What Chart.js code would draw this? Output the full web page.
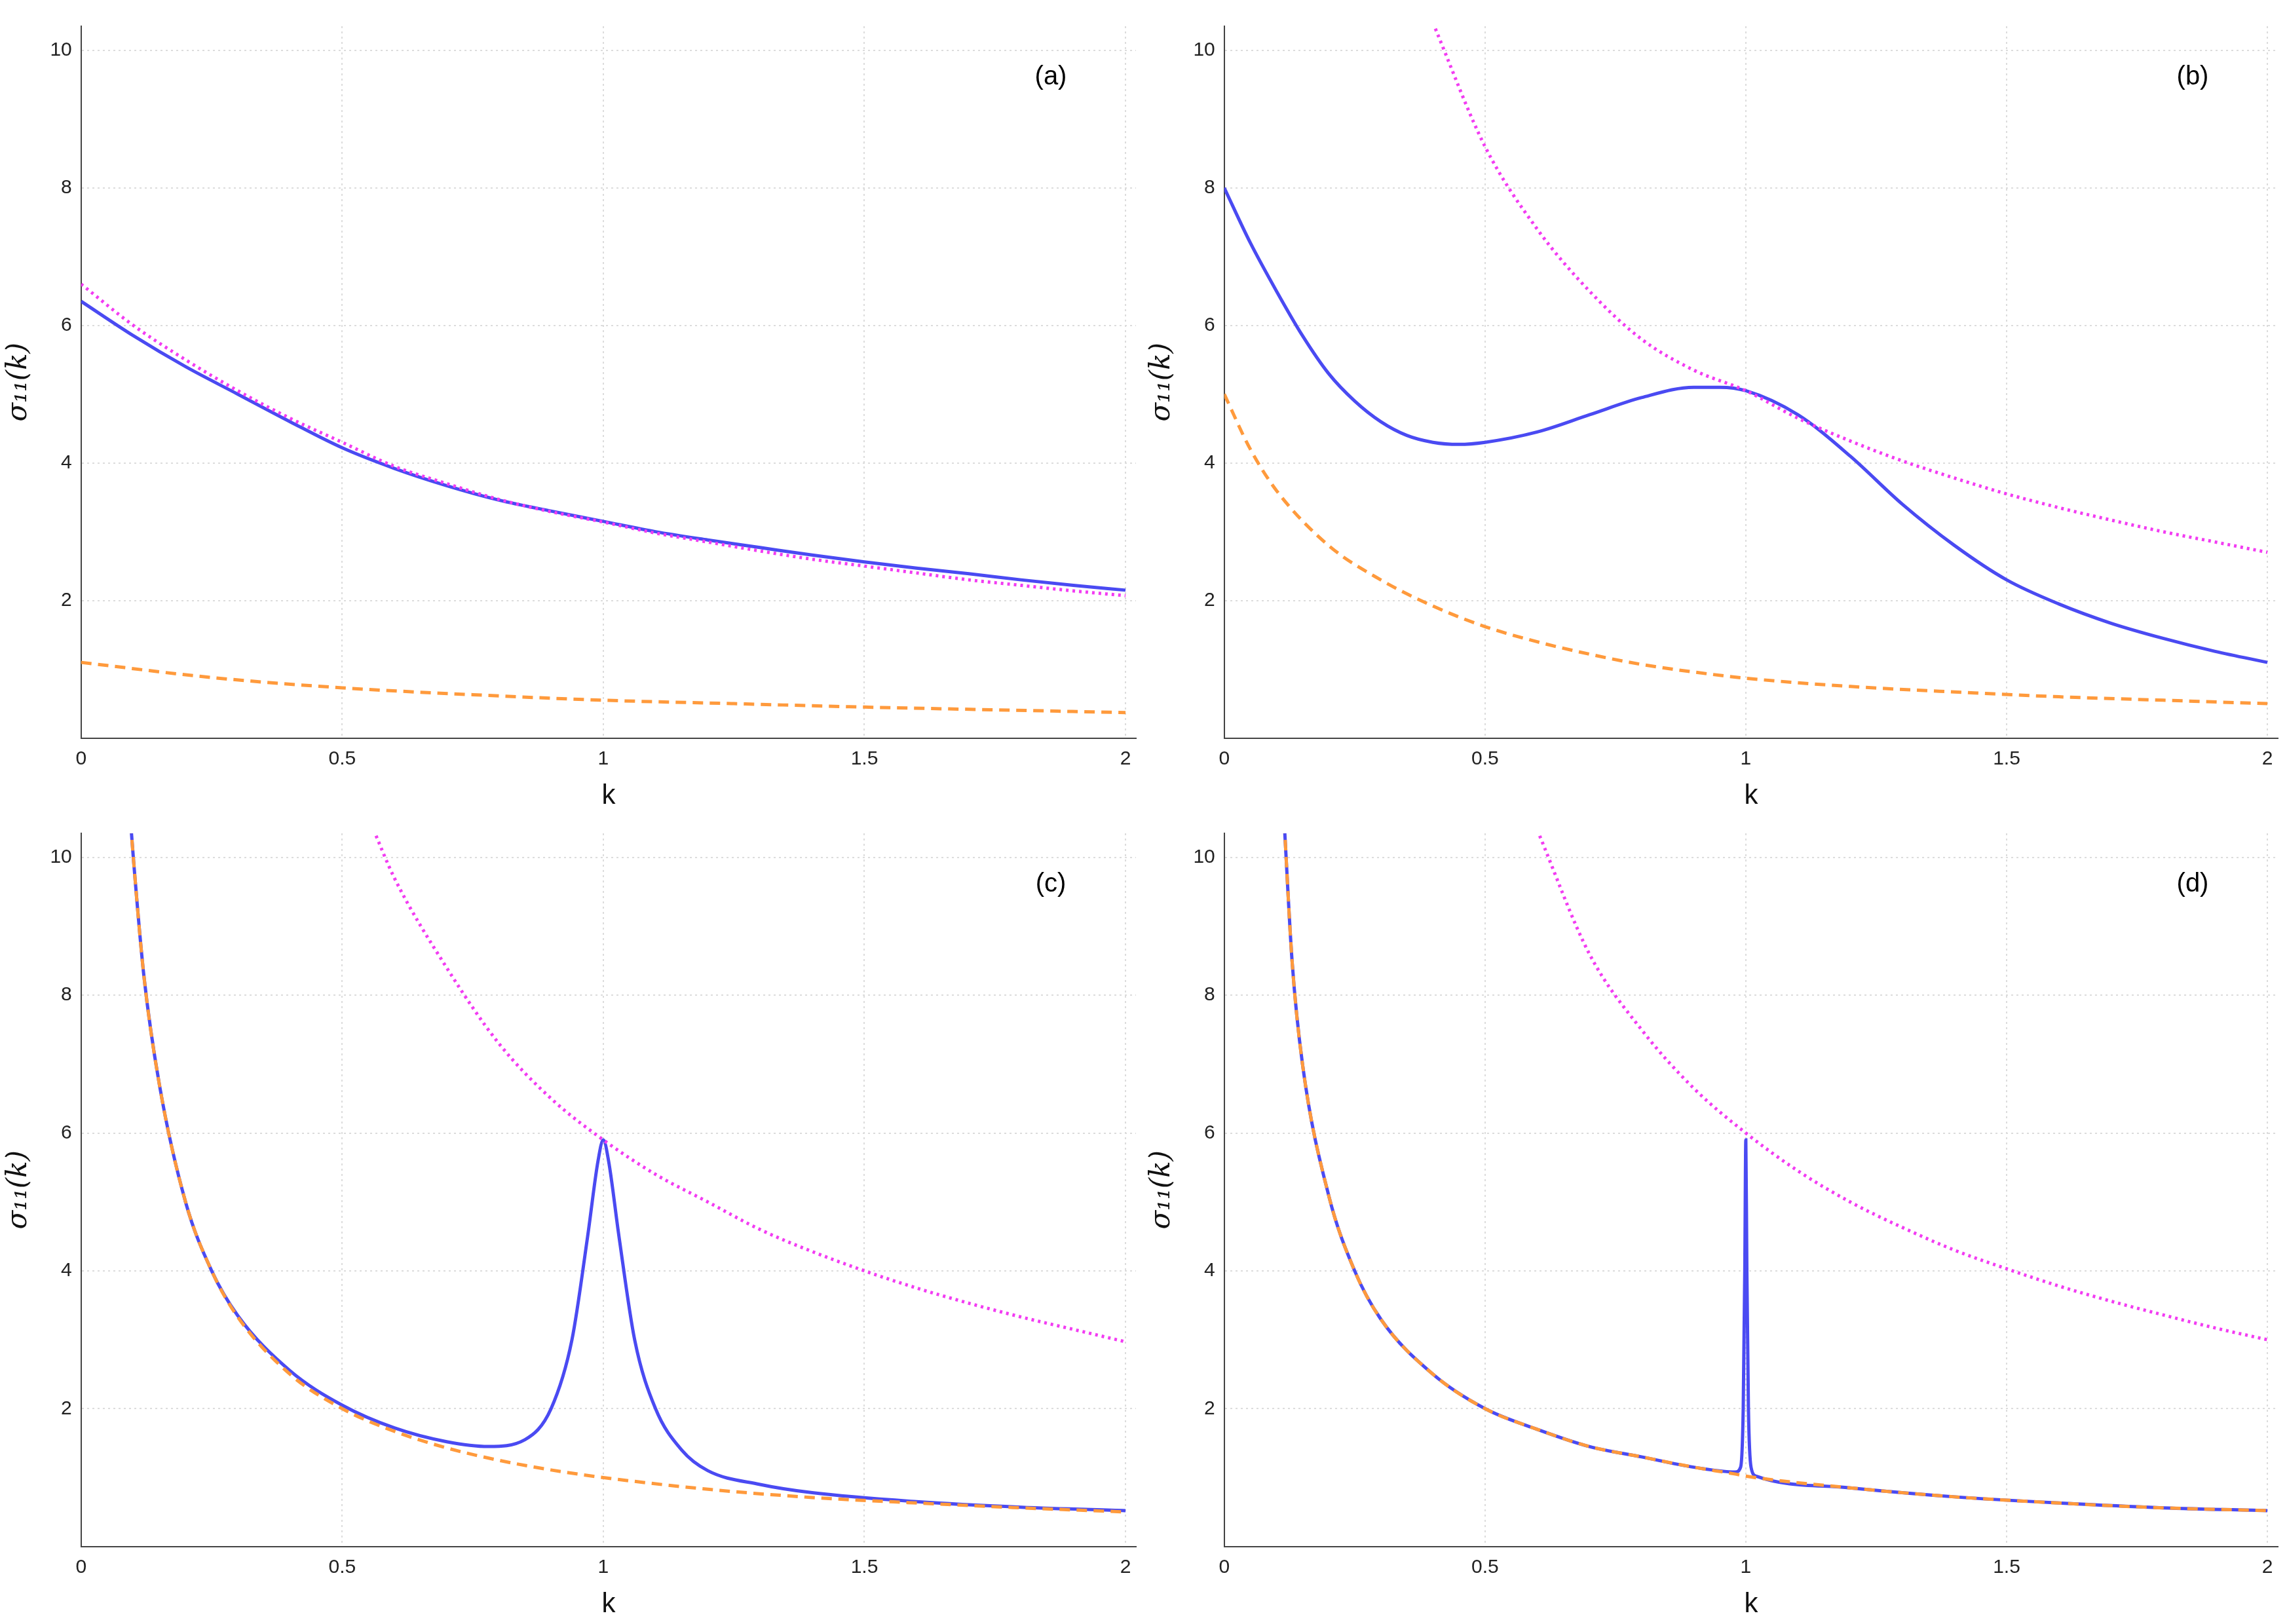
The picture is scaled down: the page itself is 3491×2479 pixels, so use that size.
<!DOCTYPE html>
<html>
<head>
<meta charset="utf-8">
<script src="https://cdn.jsdelivr.net/npm/chart.js@4"></script>
<style>
  body { margin: 0; background: #fff; }
  .panel { position: absolute; }
</style>
</head>
<body>
<div class="panel" style="left:0;top:0;width:1748px;height:1245px"><canvas id="ca"></canvas></div>
<div class="panel" style="left:1745px;top:0;width:1746px;height:1245px"><canvas id="cb"></canvas></div>
<div class="panel" style="left:0;top:1232px;width:1748px;height:1247px"><canvas id="cc"></canvas></div>
<div class="panel" style="left:1745px;top:1232px;width:1746px;height:1247px"><canvas id="cd"></canvas></div>
<script>
// (a)
const aBlueK = [0,0.1,0.2,0.3,0.4,0.5,0.6,0.7,0.8,0.9,1,1.1,1.2,1.3,1.4,1.5,1.6,1.7,1.8,1.9,2];
const aBlue = [6.35,5.85,5.4,5.0,4.6,4.22,3.92,3.67,3.46,3.3,3.15,3.0,2.88,2.77,2.66,2.56,2.47,2.39,2.3,2.22,2.15];
const aMagK = aBlueK;
const aMag = [6.6,6.0,5.5,5.05,4.65,4.3,3.95,3.7,3.47,3.29,3.14,2.98,2.85,2.72,2.6,2.5,2.4,2.3,2.22,2.14,2.07];
const aOrK = [0,0.25,0.5,0.75,1,1.25,1.5,1.75,2];
const aOr = [1.1,0.88,0.73,0.63,0.55,0.5,0.45,0.41,0.37];
// (b)
const bBlueK = [0,0.05,0.1,0.15,0.2,0.25,0.3,0.35,0.4,0.45,0.5,0.6,0.7,0.8,0.9,0.95,1,1.1,1.2,1.3,1.4,1.5,1.6,1.7,1.8,1.9,2];
const bBlue = [8.0,7.2,6.5,5.85,5.3,4.9,4.6,4.4,4.3,4.27,4.3,4.45,4.7,4.95,5.1,5.1,5.05,4.7,4.1,3.4,2.8,2.3,1.95,1.67,1.45,1.26,1.1];
const bMagK = [0.4,0.5,0.6,0.7,0.8,0.9,1,1.1,1.2,1.3,1.4,1.5,1.6,1.7,1.8,1.9,2];
const bMag = [10.4,8.6,7.4,6.5,5.8,5.35,5.05,4.65,4.32,4.03,3.78,3.55,3.35,3.17,3.0,2.85,2.7];
const bOrK = [0,0.05,0.1,0.2,0.3,0.4,0.5,0.6,0.7,0.8,0.9,1,1.2,1.4,1.6,1.8,2];
const bOr = [5.0,4.2,3.6,2.8,2.3,1.92,1.62,1.4,1.22,1.07,0.96,0.87,0.75,0.67,0.6,0.55,0.5];
// (c)
const cOrK = [0.095,0.1,0.12,0.15,0.2,0.25,0.3,0.4,0.5,0.6,0.7,0.8,0.9,1,1.2,1.4,1.6,1.8,2];
const cOr = [10.5,10,8.3,6.7,5,4,3.33,2.5,2,1.67,1.43,1.25,1.11,1,0.83,0.71,0.63,0.56,0.5];
const cBlueK = [0.095,0.1,0.12,0.15,0.2,0.25,0.3,0.4,0.5,0.6,0.7,0.78,0.85,0.9,0.94,0.97,0.99,1,1.01,1.03,1.06,1.1,1.15,1.2,1.3,1.4,1.6,1.8,2];
const cBlue = [10.5,10,8.3,6.7,5,4,3.35,2.55,2.05,1.72,1.52,1.45,1.55,2.0,3.0,4.5,5.6,5.9,5.6,4.5,3.0,2.0,1.4,1.1,0.9,0.78,0.65,0.57,0.52];
const cMagK = [0.56,0.6,0.7,0.8,0.9,1,1.1,1.2,1.3,1.4,1.5,1.6,1.7,1.8,1.9,2];
const cMag = [10.4,9.7,8.4,7.3,6.5,5.9,5.4,5.0,4.6,4.28,4.0,3.75,3.53,3.33,3.15,2.97];
// (d)
const dOrK = [0.115,0.13,0.15,0.2,0.25,0.3,0.4,0.5,0.6,0.7,0.8,0.9,0.98,1,1.2,1.4,1.6,1.8,2];
const dOr = [10.5,8.5,7.0,5.1,4.0,3.3,2.5,2.0,1.7,1.45,1.3,1.15,1.05,1.02,0.85,0.72,0.63,0.56,0.52];
const dBlueK = [0.115,0.13,0.15,0.2,0.25,0.3,0.4,0.5,0.6,0.7,0.8,0.9,0.98,0.99,0.995,0.998,1,1.002,1.005,1.01,1.02,1.2,1.4,1.6,1.8,2];
const dBlue = [10.5,8.5,7.0,5.1,4.0,3.3,2.5,2.0,1.7,1.45,1.3,1.15,1.08,1.15,2,4,5.9,4,2,1.15,1.02,0.85,0.72,0.63,0.56,0.52];
const dMagK = [0.6,0.7,0.8,0.9,1,1.1,1.2,1.3,1.4,1.5,1.6,1.7,1.8,1.9,2];
const dMag = [10.4,8.6,7.5,6.65,6.0,5.45,5.0,4.63,4.3,4.03,3.78,3.56,3.36,3.17,3.0];

const xTicks = [0,0.5,1,1.5,2];
const yTicks = [0,2,4,6,8,10];

const pts = (ks, vs) => ks.map((k, i) => ({x: k, y: vs[i]}));

const panelLabel = {
  id: 'panelLabel',
  afterDraw(chart, args, opts) {
    const {ctx, chartArea} = chart;
    ctx.save();
    ctx.font = '40px "Liberation Sans", Arial, sans-serif';
    ctx.fillStyle = '#000';
    ctx.textAlign = 'center';
    ctx.textBaseline = 'middle';
    ctx.fillText(opts.text, chartArea.right - 130, chartArea.top + 78);
    ctx.restore();
  }
};

function makeChart(id, label, orange, blue, magenta) {
  const line = {pointRadius: 0, fill: false, cubicInterpolationMode: 'monotone'};
  new Chart(document.getElementById(id), {
    type: 'line',
    data: {
      datasets: [
        {...line, data: orange, borderColor: '#ff9a3c', borderWidth: 5, borderDash: [16, 10]},
        {...line, data: magenta, borderColor: '#f23cf2', borderWidth: 5, borderDash: [4, 6]},
        {...line, data: blue, borderColor: '#4a4af2', borderWidth: 5}
      ]
    },
    options: {
      responsive: true,
      maintainAspectRatio: false,
      animation: false,
      devicePixelRatio: 1,
      layout: {padding: {top: 40, right: 14, left: 0, bottom: 0}},
      plugins: {legend: {display: false}, tooltip: {enabled: false}, panelLabel: {text: label}},
      scales: {
        x: {
          type: 'linear', min: 0, max: 2.02,
          afterBuildTicks: axis => { axis.ticks = xTicks.map(v => ({value: v})); },
          grid: {color: '#dcdcdc', lineWidth: 2, drawTicks: false},
          border: {color: '#444', width: 2, dash: [3, 5]},
          ticks: {color: '#222', font: {size: 30, family: 'Liberation Sans'}, padding: 14,
                  callback: v => String(v)},
          title: {display: true, text: 'k', color: '#111', font: {size: 42, family: 'Liberation Sans'}, padding: {top: 0}}
        },
        y: {
          min: 0, max: 10.35,
          afterBuildTicks: axis => { axis.ticks = yTicks.map(v => ({value: v})); },
          grid: {color: '#dcdcdc', lineWidth: 2, drawTicks: false},
          border: {color: '#444', width: 2, dash: [3, 5]},
          ticks: {color: '#222', font: {size: 30, family: 'Liberation Sans'}, padding: 14,
                  callback: v => v === 0 ? '' : String(v)},
          title: {display: true, text: 'σ₁₁(k)', color: '#111', font: {size: 42, family: 'DejaVu Serif', style: 'italic'}, padding: {bottom: 8}}
        }
      }
    },
    plugins: [panelLabel]
  });
}

makeChart('ca', '(a)', pts(aOrK, aOr), pts(aBlueK, aBlue), pts(aMagK, aMag));
makeChart('cb', '(b)', pts(bOrK, bOr), pts(bBlueK, bBlue), pts(bMagK, bMag));
makeChart('cc', '(c)', pts(cOrK, cOr), pts(cBlueK, cBlue), pts(cMagK, cMag));
makeChart('cd', '(d)', pts(dOrK, dOr), pts(dBlueK, dBlue), pts(dMagK, dMag));
</script>
</body>
</html>
